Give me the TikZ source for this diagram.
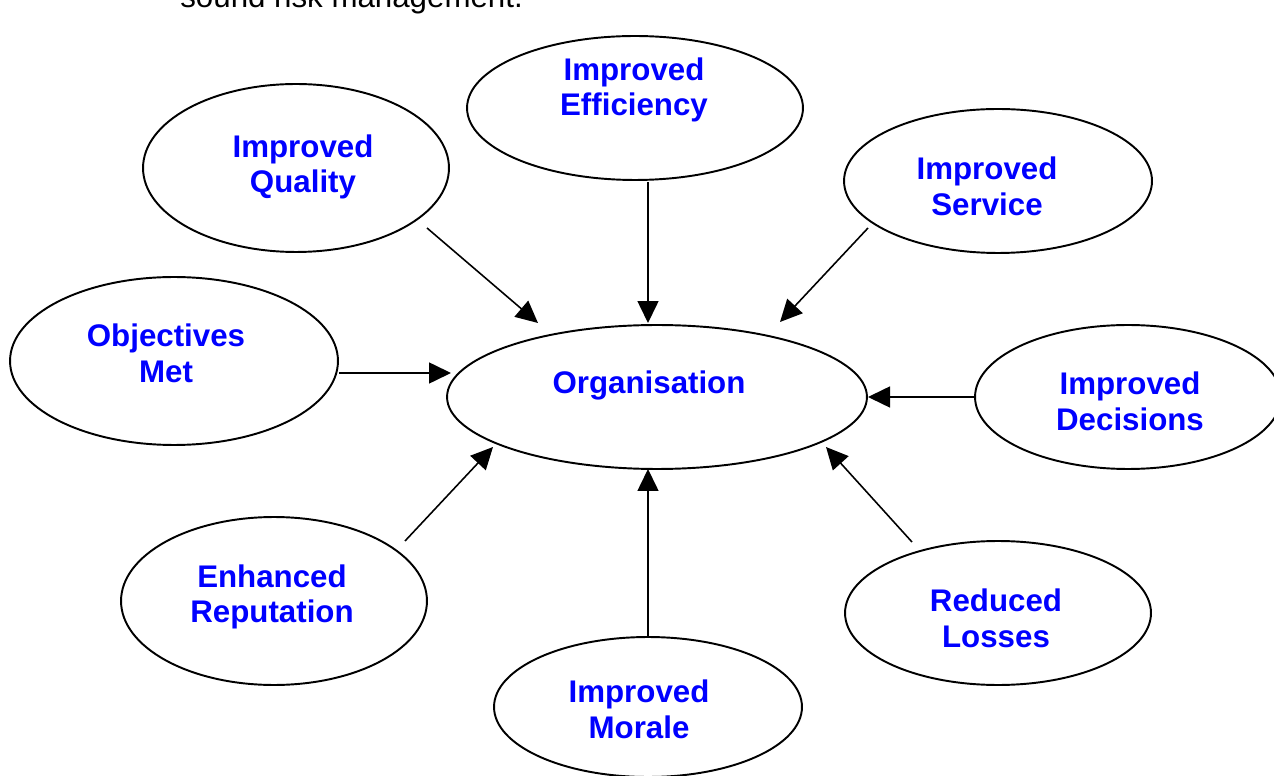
\documentclass[tikz,border=0pt]{standalone}
\usepackage{fontspec}
\setmainfont{Liberation Sans}
\usetikzlibrary{shapes.geometric}
\usetikzlibrary{arrows.meta}
\definecolor{benefitblue}{RGB}{0,0,255}

\begin{document}
\begin{tikzpicture}[x=0.02cm, y=-0.02cm]
\tikzset{font=\fontsize{17.8}{20}\selectfont}
\tikzset{bubble/.style={draw, ellipse, line width=1.1pt, inner sep=0pt}}
\tikzset{caption/.style={text=benefitblue, font=\fontsize{17.8}{20.3}\selectfont\bfseries, align=center, inner sep=0pt}}
\tikzset{feed/.style={-{Triangle[length=0.44cm, width=0.42cm]}, line width=0.9pt}}
\useasboundingbox (0,0) rectangle (1274,776);
\clip (0,0) rectangle (1274,776);

% running text cut off by the page
\node[anchor=base west, inner sep=0pt] (runtext) at (180,8) {sound risk management.};

% ellipses
\node[bubble, minimum width=8.4cm, minimum height=2.88cm] (org) at (657,397) {};
\node[bubble, minimum width=6.72cm, minimum height=2.88cm] (effic) at (635,108) {};
\node[bubble, minimum width=6.12cm, minimum height=3.36cm] (quality) at (296,168) {};
\node[bubble, minimum width=6.16cm, minimum height=2.88cm] (service) at (998,181) {};
\node[bubble, minimum width=6.56cm, minimum height=3.36cm] (objectives) at (174,361) {};
\node[bubble, minimum width=6.12cm, minimum height=2.88cm] (decisions) at (1128,397) {};
\node[bubble, minimum width=6.12cm, minimum height=3.36cm] (reputation) at (274,601) {};
\node[bubble, minimum width=6.16cm, minimum height=2.80cm] (morale) at (648,707) {};
\node[bubble, minimum width=6.12cm, minimum height=2.88cm] (losses) at (998,613) {};

% captions
\node[caption] (org-text) at (649,385) {Organisation};
\node[caption] (effic-text) at (634,90) {Improved\\Efficiency};
\node[caption] (quality-text) at (303,167) {Improved\\Quality};
\node[caption] (service-text) at (987,186) {Improved\\Service};
\node[caption] (objectives-text) at (166,353) {Objectives\\Met};
\node[caption] (decisions-text) at (1130,401) {Improved\\Decisions};
\node[caption] (reputation-text) at (272,597) {Enhanced\\Reputation};
\node[caption] (morale-text) at (639,709) {Improved\\Morale};
\node[caption] (losses-text) at (996,618) {Reduced\\Losses};

% arrow ends
\coordinate (quality-tail) at (427,228);
\coordinate (quality-head) at (538,323);
\coordinate (effic-tail) at (648,182);
\coordinate (effic-head) at (648,323);
\coordinate (service-tail) at (868,228);
\coordinate (service-head) at (780,322);
\coordinate (objectives-tail) at (339,373);
\coordinate (objectives-head) at (451,373);
\coordinate (decisions-tail) at (975,397);
\coordinate (decisions-head) at (868,397);
\coordinate (reputation-tail) at (405,541);
\coordinate (reputation-head) at (493,447);
\coordinate (morale-tail) at (648,636);
\coordinate (morale-head) at (648,469);
\coordinate (losses-tail) at (912,542);
\coordinate (losses-head) at (826,447);

\foreach \src in {quality, effic, service, objectives, decisions, reputation, morale, losses}
  \draw[feed] (\src-tail) -- (\src-head);
\end{tikzpicture}
\end{document}
